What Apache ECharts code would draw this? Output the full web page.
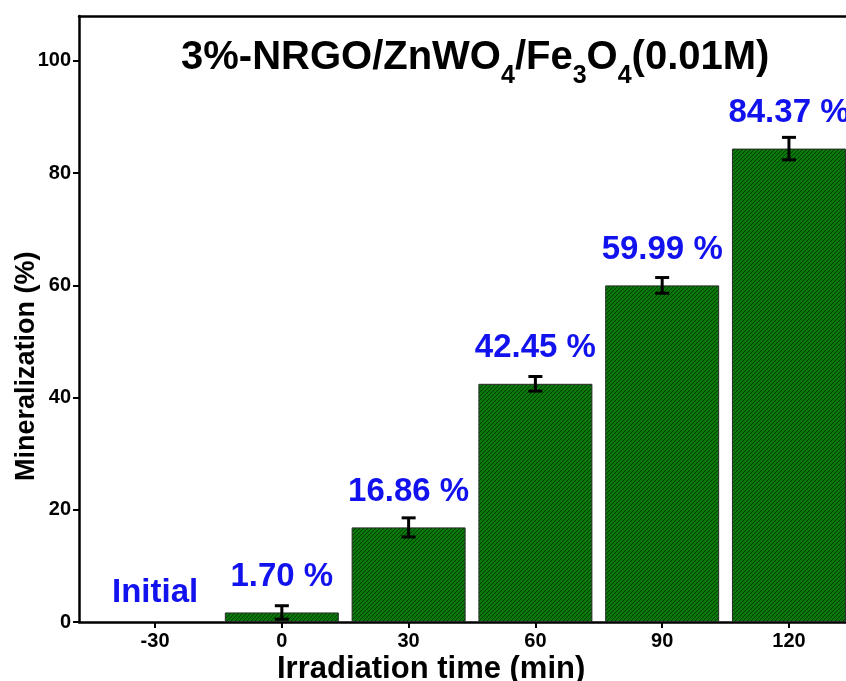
<!DOCTYPE html>
<html>
<head>
<meta charset="utf-8">
<script src="https://cdn.jsdelivr.net/npm/echarts@6/dist/echarts.min.js"></script>
<style>
  html, body { margin: 0; padding: 0; background: #ffffff; }
  #chart { width: 846px; height: 681px; }
</style>
</head>
<body>
<div id="chart"></div>
<script>
// Mineralization of the pollutant over irradiation time
const times = [0, 30, 60, 90, 120];
const mineralization = [1.70, 16.86, 42.45, 59.99, 84.37];
const errors = [1.2, 1.7, 1.3, 1.4, 2.0];
const xTicks = [-30, 0, 30, 60, 90, 120];
const yTicks = [0, 20, 40, 60, 80, 100];
const initialTime = -30;
const initialLabel = 'Initial';

const FONT = '"Liberation Sans", Arial, Helvetica, sans-serif';
const BLUE = '#1212ee';

// diagonal hatch fill for the bars
function hatchPattern() {
  const c = document.createElement('canvas');
  c.width = 4; c.height = 4;
  const g = c.getContext('2d');
  g.fillStyle = '#0a780a';
  g.fillRect(0, 0, 4, 4);
  g.strokeStyle = 'rgba(0,48,0,0.85)';
  g.lineWidth = 1;
  g.beginPath();
  g.moveTo(-1, 5); g.lineTo(5, -1);
  g.moveTo(-1, 1); g.lineTo(1, -1);
  g.moveTo(3, 5); g.lineTo(5, 3);
  g.stroke();
  return c;
}

const barData = times.map((t, i) => [t, mineralization[i]]);
const errData = times.map((t, i) => [t, mineralization[i] - errors[i], mineralization[i] + errors[i]]);

const chart = echarts.init(document.getElementById('chart'), null, { renderer: 'canvas' });

const axisLineStyle = { color: '#000', width: 2.5 };

chart.setOption({
  animation: false,
  backgroundColor: '#ffffff',
  title: {
    text: '{a|3%-NRGO/ZnWO}{s|4}{a|/Fe}{s|3}{a|O}{s|4}{a|(0.01M)}',
    left: 176,
    top: 33,
    textStyle: {
      rich: {
        a: { fontFamily: FONT, fontWeight: 'bold', fontSize: 40, lineHeight: 40, color: '#000' },
        s: { fontFamily: FONT, fontWeight: 'bold', fontSize: 25, lineHeight: 25, color: '#000', padding: [36, 0, 0, 0] }
      }
    }
  },
  grid: { left: 79, right: 0, top: 16, bottom: 59 },
  xAxis: [
    {
      type: 'value',
      min: -48, max: 133.5,
      splitLine: { show: false },
      axisLine: { show: true, onZero: false, lineStyle: axisLineStyle },
      axisTick: { show: true, customValues: xTicks, length: 6, lineStyle: { color: '#000', width: 2 } },
      axisLabel: {
        customValues: xTicks, margin: 9,
        fontFamily: FONT, fontWeight: 'bold', fontSize: 20, color: '#000'
      }
    },
    {
      // top frame line
      type: 'value', position: 'top',
      min: -48, max: 133.5,
      splitLine: { show: false },
      axisLine: { show: true, onZero: false, lineStyle: axisLineStyle },
      axisTick: { show: false },
      axisLabel: { show: false }
    }
  ],
  yAxis: {
    type: 'value',
    min: 0, max: 108,
    splitLine: { show: false },
    axisLine: { show: true, onZero: false, lineStyle: axisLineStyle },
    axisTick: { show: true, customValues: yTicks, length: 6, lineStyle: { color: '#000', width: 2 } },
    axisLabel: {
      customValues: yTicks, margin: 8,
      fontFamily: FONT, fontWeight: 'bold', fontSize: 20, color: '#000'
    }
  },
  graphic: [
    {
      type: 'text', left: 277, top: 654,
      style: { text: 'Irradiation time (min)', fontFamily: FONT, fontWeight: 'bold', fontSize: 31, fill: '#000' }
    },
    {
      type: 'text', rotation: Math.PI / 2, x: 13, y: 481, originX: 0, originY: 0,
      style: { text: 'Mineralization (%)', fontFamily: FONT, fontWeight: 'bold', fontSize: 27, fill: '#000',
               textAlign: 'left', textVerticalAlign: 'top' }
    }
  ],
  series: [
    {
      type: 'bar',
      data: barData,
      barWidth: 114,
      itemStyle: {
        color: { image: hatchPattern(), repeat: 'repeat' },
        borderColor: '#2a2a2a',
        borderWidth: 1
      },
      label: {
        show: true, position: 'top', distance: 19,
        formatter: p => p.value[1].toFixed(2) + ' %',
        fontFamily: FONT, fontWeight: 'bold', fontSize: 33, color: BLUE
      },
      z: 2
    },
    {
      type: 'custom',
      data: errData,
      z: 5,
      renderItem: function (params, api) {
        const x = api.value(0);
        const lo = api.coord([x, api.value(1)]);
        const hi = api.coord([x, api.value(2)]);
        const cap = 7;
        const style = { stroke: '#000', lineWidth: 3 };
        return {
          type: 'group',
          children: [
            { type: 'line', shape: { x1: lo[0], y1: lo[1], x2: hi[0], y2: hi[1] }, style },
            { type: 'line', shape: { x1: lo[0] - cap, y1: lo[1], x2: lo[0] + cap, y2: lo[1] }, style },
            { type: 'line', shape: { x1: hi[0] - cap, y1: hi[1], x2: hi[0] + cap, y2: hi[1] }, style }
          ]
        };
      }
    },
    {
      type: 'custom',
      data: [[initialTime, 0]],
      z: 5,
      renderItem: function (params, api) {
        const p = api.coord([api.value(0), api.value(1)]);
        return {
          type: 'text',
          x: p[0], y: p[1] - 13,
          style: { text: initialLabel, fontFamily: FONT, fontWeight: 'bold', fontSize: 33, fill: BLUE,
                   textAlign: 'center', textVerticalAlign: 'bottom' }
        };
      }
    }
  ]
});
</script>
</body>
</html>
